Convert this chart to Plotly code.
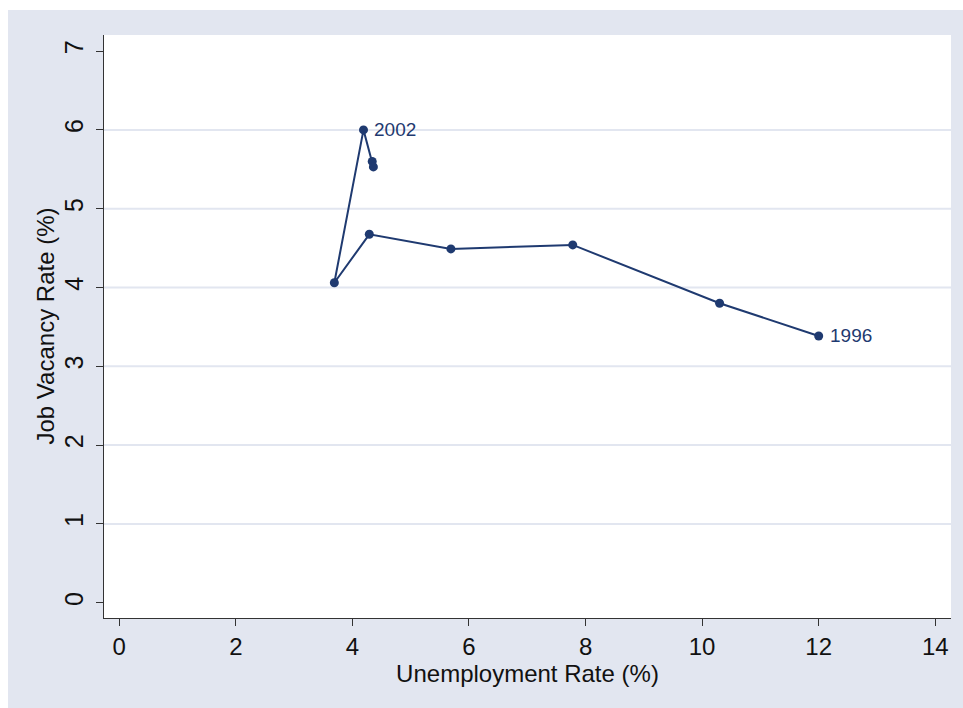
import plotly.graph_objects as go

# Beveridge curve: unemployment vs job vacancy rate, 1996-2004
years = ["1996", "1997", "1998", "1999", "2000", "2001", "2002", "2003", "2004"]
unemployment = [12.0, 10.3, 7.78, 5.69, 4.29, 3.69, 4.19, 4.34, 4.36]
vacancy = [3.385, 3.80, 4.54, 4.49, 4.675, 4.06, 6.0, 5.60, 5.53]
labelled_years = ["1996", "2002"]

x_ticks = [0, 2, 4, 6, 8, 10, 12, 14]
y_ticks = [0, 1, 2, 3, 4, 5, 6, 7]
grid_levels = [1, 2, 3, 4, 5, 6]

NAVY = "#1f3a70"
BLUISH = "#e2e6f0"
FONT = "Arial, Liberation Sans, sans-serif"

fig = go.Figure()
fig.add_trace(go.Scatter(
    x=unemployment, y=vacancy, mode="lines+markers",
    line=dict(color=NAVY, width=2),
    marker=dict(color=NAVY, size=9),
    showlegend=False, cliponaxis=False,
))

# year labels to the right of the end-point markers
annotations = []
for yr in labelled_years:
    i = years.index(yr)
    annotations.append(dict(x=unemployment[i], y=vacancy[i], text=yr, showarrow=False,
                            xanchor="left", yanchor="middle", xshift=9,
                            font=dict(family=FONT, size=19, color=NAVY)))

# vertical axis title, placed left of the rotated tick labels
annotations.append(dict(x=0, y=0.5, xref="paper", yref="paper", text="Job Vacancy Rate (%)",
                        showarrow=False, textangle=-90, xanchor="center", yanchor="middle",
                        xshift=-59, font=dict(family=FONT, size=24, color="#111111")))

shapes = []
# horizontal grid lines at interior ticks only
for g in grid_levels:
    shapes.append(dict(type="line", xref="paper", yref="y", x0=0, x1=1, y0=g, y1=g,
                       line=dict(color=BLUISH, width=2), layer="below"))
# white margin strips along the top and left edges of the page
shapes.append(dict(type="rect", xref="paper", yref="paper", x0=-0.2, x1=1.1,
                   y0=1.0429, y1=1.2, fillcolor="white", line=dict(width=0), layer="below"))
shapes.append(dict(type="rect", xref="paper", yref="paper", x0=-0.2, x1=-0.1133,
                   y0=-0.3, y1=1.2, fillcolor="white", line=dict(width=0), layer="below"))

fig.update_layout(
    width=963, height=708,
    margin=dict(l=104, r=12, t=35, b=90),
    paper_bgcolor=BLUISH, plot_bgcolor="white",
    font=dict(family=FONT, color="#111111"),
    shapes=shapes, annotations=annotations,
    xaxis=dict(
        range=[-0.262, 14.27], tickvals=x_ticks, showgrid=False, zeroline=False,
        showline=True, linecolor="#333333", linewidth=1.2,
        ticks="outside", ticklen=7, tickwidth=1.2, tickcolor="#333333",
        tickfont=dict(size=24, family=FONT, color="#111111"),
        title=dict(text="Unemployment Rate (%)", font=dict(size=24, family=FONT, color="#111111"),
                   standoff=5),
    ),
    yaxis=dict(
        range=[-0.194, 7.204], tickvals=y_ticks, showgrid=False, zeroline=False,
        showline=True, linecolor="#333333", linewidth=1.2,
        ticks="outside", ticklen=7, tickwidth=1.2, tickcolor="#333333",
        tickangle=-90, ticklabelstandoff=3,
        tickfont=dict(size=25, family=FONT, color="#111111"),
    ),
)

fig.write_html("out.html")
